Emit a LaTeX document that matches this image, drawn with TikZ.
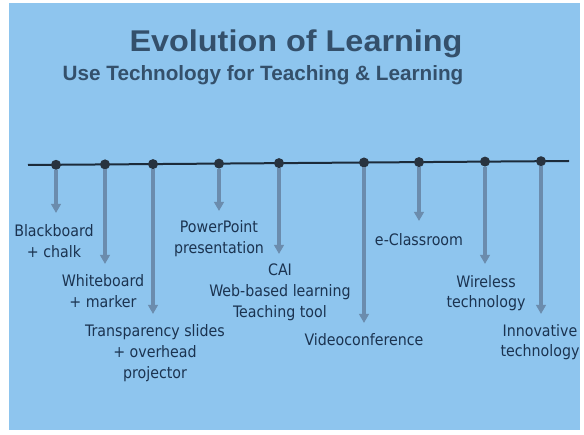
\documentclass[tikz,border=0pt]{standalone}
\usepackage{fontspec}
\setmainfont{Liberation Sans}
\newfontfamily\labfont{DejaVu Sans Condensed}
\usetikzlibrary{arrows.meta}

\definecolor{slidebg}{HTML}{8EC5EE}
\definecolor{titlecol}{HTML}{34506B}
\definecolor{labelcol}{HTML}{1B3350}
\definecolor{linecol}{HTML}{1C2B3A}
\definecolor{dotcol}{HTML}{28333F}
\definecolor{arrowcol}{HTML}{6B8CAD}

\tikzset{
  event/.style={circle, fill=dotcol, inner sep=0pt, minimum size=10pt},
  drop/.style={draw=arrowcol, line width=3.4pt,
    -{Triangle[width=9.5pt,length=9pt]}},
  % captions are placed by the baseline of their last line
  label/.style={text=labelcol, font=\labfont\fontsize{15.8}{20.8}\selectfont,
    align=center, inner sep=0pt, anchor=base},
}

\begin{document}
\begin{tikzpicture}[x=1pt, y=-1pt]
  \useasboundingbox (0,0) rectangle (584,435);
  \fill[white] (0,0) rectangle (584,435);
  \fill[slidebg] (9,3) rectangle (580,430);

  % headings
  \node[text=titlecol, font=\bfseries\fontsize{30}{34}\selectfont,
        anchor=base, inner sep=0pt, xscale=1.08] (title) at (296,52) {Evolution of Learning};
  \node[text=titlecol, font=\bfseries\fontsize{20.7}{24}\selectfont,
        anchor=base, inner sep=0pt] (subtitle) at (263,81) {Use Technology for Teaching \& Learning};

  % timeline axis
  \coordinate (tstart) at (28,165);
  \coordinate (tend) at (569,161);
  \draw[linecol, line width=2pt] (tstart) -- (tend);

  % milestones on the axis
  \node[event] (e1) at (56,164.8) {};
  \node[event] (e2) at (105,164.4) {};
  \node[event] (e3) at (153,164.1) {};
  \node[event] (e4) at (219,163.6) {};
  \node[event] (e5) at (279,163.1) {};
  \node[event] (e6) at (364,162.5) {};
  \node[event] (e7) at (419,162.1) {};
  \node[event] (e8) at (485,161.6) {};
  \node[event] (e9) at (541,161.2) {};

  % arrow tips below each milestone
  \coordinate (a1) at (56,213);
  \coordinate (a2) at (105,264);
  \coordinate (a3) at (153,314);
  \coordinate (a4) at (219,211);
  \coordinate (a5) at (279,254);
  \coordinate (a6) at (364,323);
  \coordinate (a7) at (419,221);
  \coordinate (a8) at (485,264);
  \coordinate (a9) at (541,314);
  \foreach \i in {1,...,9} {
    \draw[drop] (e\i.center) ++(0,5) -- (a\i);
  }

  % milestone captions
  \node[label] (l1) at (54,257.5) {Blackboard\\+ chalk};
  \node[label] (l2) at (103,307.5) {Whiteboard\\+ marker};
  \node[label] (l3) at (155,378.5) {Transparency slides\\+ overhead\\projector};
  \node[label] (l4) at (219,253.5) {PowerPoint\\presentation};
  \node[label] (l5) at (280,317.5) {CAI\\Web-based learning\\Teaching tool};
  \node[label] (l6) at (364,346) {Videoconference};
  \node[label] (l7) at (419,245.5) {e-Classroom};
  \node[label] (l8) at (486,308) {Wireless\\technology};
  \node[label] (l9) at (540,357) {Innovative\\technology};
\end{tikzpicture}
\end{document}
